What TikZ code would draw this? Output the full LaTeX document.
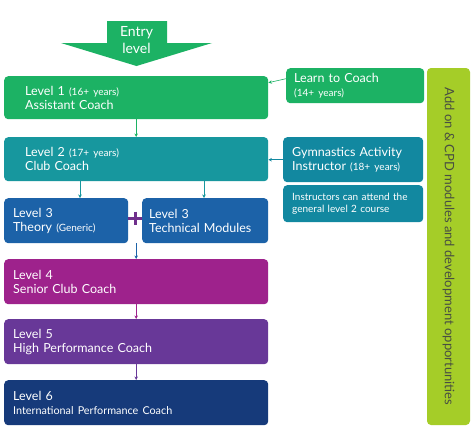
\documentclass[tikz,border=0pt]{standalone}
\usepackage{fontspec}
\setmainfont{Lato}
\usetikzlibrary{calc,arrows.meta}
\definecolor{cpGreen}{RGB}{28,178,100}
\definecolor{cpTeal}{RGB}{23,151,158}
\definecolor{cpInstr}{RGB}{18,136,160}
\definecolor{cpBlue}{RGB}{28,98,168}
\definecolor{cpPlus}{RGB}{112,48,140}
\definecolor{cpMagenta}{RGB}{158,34,140}
\definecolor{cpPurple}{RGB}{104,56,152}
\definecolor{cpNavy}{RGB}{22,58,122}
\definecolor{cpLime}{RGB}{165,205,40}
\definecolor{cpLimeText}{RGB}{72,78,66}
\tikzset{
 cp box/.style={rounded corners=4pt,text=white,align=left,anchor=north west,
                inner ysep=2pt,font=\fontsize{12.5}{13.8}\selectfont},
 cp link/.style={line width=.6pt,-{Stealth[length=3.5pt,width=3.5pt]}},
 cp plus/.style={line width=3pt,cpPlus},
 cp entry/.style={text=white,align=center,font=\fontsize{14}{16.5}\selectfont}
}
\newcommand{\cpsmall}[1]{{\fontsize{10}{11}\selectfont #1}}

\begin{document}
\begin{tikzpicture}[x=1pt,y=-1pt]
 \useasboundingbox[fill=white] (0,0) rectangle (474,439);
 % entry arrow
 \fill[cpGreen] (107,21) -- (167,21) -- (167,43) -- (212,43) -- (136.5,66)
   -- (61,43) -- (107,43) -- cycle;
 \node[cp entry] (entry) at (136.5,40) {Entry\\level};
 % levels
 \node[cp box,fill=cpGreen,minimum width=264,minimum height=43,inner xsep=21pt,text width=222pt]
   (lvl1) at (4,76) {Level 1 \cpsmall{(16+ years)}\\Assistant Coach};
 \node[cp box,fill=cpTeal,minimum width=264,minimum height=44,inner xsep=21pt,text width=222pt]
   (lvl2) at (4,137) {Level 2 \cpsmall{(17+ years)}\\Club Coach};
 \node[cp box,fill=cpBlue,minimum width=124,minimum height=45,inner xsep=9pt,text width=106pt]
   (theory) at (4,198) {Level 3\\Theory \cpsmall{(Generic)}};
 \node[cp box,fill=cpBlue,minimum width=126,minimum height=45,inner xsep=7pt,text width=112pt]
   (tech) at (142,198) {Level 3\\Technical Modules};
 \node[cp box,fill=cpMagenta,minimum width=264,minimum height=45,inner xsep=9pt,text width=246pt]
   (lvl4) at (4,259) {Level 4\\Senior Club Coach};
 \node[cp box,fill=cpPurple,minimum width=264,minimum height=45,inner xsep=9pt,text width=246pt]
   (lvl5) at (4,319) {Level 5\\High Performance Coach};
 \node[cp box,fill=cpNavy,minimum width=264,minimum height=45,inner xsep=9pt,text width=246pt]
   (lvl6) at (4,380) {Level 6\\{\fontsize{10.8}{12}\selectfont International Performance Coach}};
 % side routes
 \node[cp box,fill=cpGreen,minimum width=138,minimum height=35,inner xsep=8pt,text width=122pt]
   (ltc) at (286,68) {Learn to Coach\\\cpsmall{(14+ years)}};
 \node[cp box,fill=cpInstr,minimum width=140,minimum height=45,inner xsep=9pt,text width=122pt]
   (gai) at (283,137) {Gymnastics Activity\\Instructor \cpsmall{(18+ years)}};
 \node[cp box,fill=cpInstr,minimum width=140,minimum height=37,inner xsep=9pt,text width=122pt,
   font=\fontsize{10}{11.5}\selectfont]
   (note) at (283,185) {Instructors can attend the\\general level 2 course};
 \node[rounded corners=4pt,fill=cpLime,text=cpLimeText,rotate=-90,minimum width=357pt,
   minimum height=43pt,font=\fontsize{13}{15}\selectfont]
   (cpd) at (448.5,246.5) {Add on \& CPD modules and development opportunities};
 % links
 \draw[cp link,cpGreen] (lvl1.south) -- (lvl2.north);
 \draw[cp link,cpTeal] (lvl2.south -| 80,0) -- (theory.north -| 80,0);
 \draw[cp link,cpTeal] (lvl2.south -| 204,0) -- (tech.north -| 204,0);
 \draw[cp link,cpBlue] (lvl4.north |- tech.south) -- (lvl4.north);
 \draw[cp link,cpMagenta] (lvl4.south) -- (lvl5.north);
 \draw[cp link,cpPurple] (lvl5.south) -- (lvl6.north);
 \draw[cp link,cpGreen] ([yshift=7pt]ltc.west) -- ([yshift=15pt]lvl1.east);
 \draw[cp link,cpInstr] (gai.west) -- (lvl2.east |- gai.west);
 % plus sign
 \coordinate (plusc) at ($(theory.east)!.5!(tech.west)$);
 \draw[cp plus] (theory.east |- 0,218) -- (tech.west |- 0,218);
 \draw[cp plus] (plusc |- 0,211.5) -- (plusc |- 0,224.5);
\end{tikzpicture}
\end{document}
